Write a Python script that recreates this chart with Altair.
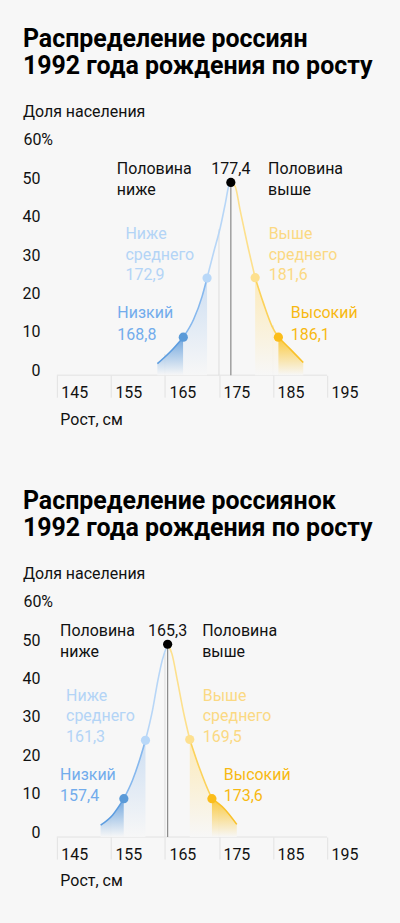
import altair as alt
import pandas as pd

FONT = "Roboto"
BG = "#f7f7f7"
INK = "#111111"

# ---------------- data ----------------
X_TICKS = [145, 155, 165, 175, 185, 195]
Y_TICKS = [0, 10, 20, 30, 40, 50, 60]

TITLE_M = ["Распределение россиян", "1992 года рождения по росту"]
TITLE_F = ["Распределение россиянок", "1992 года рождения по росту"]

# men: left (blue) side of the curve, height cm / share %
m_blue_h = [163.6, 166.0, 168.4, 170.3, 171.9, 172.8, 174.0, 175.3, 176.2, 176.8, 177.2]
m_blue_p = [3.0, 6.1, 9.9, 14.5, 20.6, 25.3, 31.9, 38.8, 44.9, 49.2, 50.2]
# men: right (yellow) side
m_yel_h = [177.2, 178.0, 178.9, 180.2, 181.7, 183.2, 184.8, 186.0, 188.2, 190.6]
m_yel_p = [50.2, 49.2, 43.1, 34.5, 25.4, 18.9, 12.8, 9.9, 6.8, 3.3]

# women
f_blue_h = [153.1, 155.3, 157.4, 159.0, 160.5, 161.4, 162.7, 163.7, 164.5, 165.5]
f_blue_p = [3.1, 5.7, 10.0, 14.8, 20.9, 25.2, 33.0, 40.8, 46.0, 50.2]
f_yel_h = [165.5, 166.3, 167.3, 168.5, 169.6, 171.3, 172.5, 173.7, 175.9, 178.3]
f_yel_p = [50.2, 47.7, 40.8, 32.1, 25.4, 18.3, 13.9, 10.0, 7.5, 3.3]

# indices of the marked points inside the side arrays
BLUE_LOW, BLUE_MID = 2, 5      # "Низкий", "Ниже среднего"
YEL_MID, YEL_HIGH = 4, 7       # "Выше среднего", "Высокий"

# faint grid rules under the curve (tick, height reached)
m_grid_h = [165, 175, 185]
m_grid_p = [5.5, 38.0, 13.0]
f_grid_h = [155, 165, 175]
f_grid_p = [5.3, 48.0, 7.8]

# value labels
M_MEDIAN, M_LOW, M_BELOW, M_ABOVE, M_HIGH = "177,4", "168,8", "172,9", "181,6", "186,1"
F_MEDIAN, F_LOW, F_BELOW, F_ABOVE, F_HIGH = "165,3", "157,4", "161,3", "169,5", "173,6"

# label anchor positions (h) per panel
m_lab_left_h, m_lab_right_h = 156.1, 184.1
m_lab_mid_left_h, m_lab_mid_right_h = 157.7, 184.2
m_lab_low_h, m_lab_high_h = 156.2, 188.3
f_lab_left_h, f_lab_right_h = 145.6, 171.9
f_lab_mid_left_h, f_lab_mid_right_h = 146.7, 172.0
f_lab_low_h, f_lab_high_h = 145.6, 175.9
ROW_TOP = [52.3, 47.0]
ROW_MID = [35.5, 30.1, 24.7]
ROW_LOW = [14.8, 9.3]

# colours
C_B1, C_B2, C_B3 = "#5d9de0", "#86b8ee", "#b7d6f7"
C_Y3, C_Y2, C_Y1 = "#fde08c", "#fcd25a", "#f9c12a"
DOT_LOW, DOT_MID_B = "#5a9ad8", "#b9d8f8"
DOT_MID_Y, DOT_HIGH = "#fde08f", "#fbbd1a"
TXT_LOW, TXT_MID_B = "#72acec", "#b3d4f6"
TXT_MID_Y, TXT_HIGH = "#fbd983", "#f7b912"
AREA_B1, AREA_B2 = "#5f9cdb", "#c9dcf2"
AREA_Y2, AREA_Y1 = "#fde9b3", "#fbc326"
AXIS_C = "#e2e2e2"


def grad(c):
    return alt.Gradient(
        gradient="linear", x1=1, y1=0, x2=1, y2=1,
        stops=[alt.GradientStop(offset=0, color=c),
               alt.GradientStop(offset=1, color=BG)],
    )


def panel(title, bh, bp, yh, yp, gh, gp, labs):
    segs = []

    def add(name, hs, ps):
        for h, p in zip(hs, ps):
            segs.append({"seg": name, "h": h, "p": p})

    add("b1", bh[:BLUE_LOW + 1], bp[:BLUE_LOW + 1])
    add("b2", bh[BLUE_LOW:BLUE_MID + 1], bp[BLUE_LOW:BLUE_MID + 1])
    add("b3", bh[BLUE_MID:], bp[BLUE_MID:])
    add("y3", yh[:YEL_MID + 1], yp[:YEL_MID + 1])
    add("y2", yh[YEL_MID:YEL_HIGH + 1], yp[YEL_MID:YEL_HIGH + 1])
    add("y1", yh[YEL_HIGH:], yp[YEL_HIGH:])
    curve = pd.DataFrame(segs)

    X = alt.X("h:Q", scale=alt.Scale(domain=[145, 205], nice=False, zero=False),
              axis=alt.Axis(values=X_TICKS, format="d", grid=False, domain=False,
                            tickColor=AXIS_C, tickSize=22,
                            labelAlign="left", labelBaseline="alphabetic", labelPadding=0,
                            labelOffset=4, labelFont=FONT, labelFontSize=16, labelColor=INK,
                            labelFlush=False, labelBound=False, labelOverlap=False,
                            title="Рост, см", titleFont=FONT, titleFontSize=16,
                            titleFontWeight="normal", titleColor=INK, titleAnchor="start",
                            titleAlign="left", titleBaseline="alphabetic", titleX=3, titleY=49))
    Y = alt.Y("p:Q", scale=alt.Scale(domain=[0, 60], nice=False, zero=True),
              axis=alt.Axis(values=Y_TICKS, grid=False, domain=False, ticks=False, tickSize=0,
                            labelExpr="datum.value == 60 ? '60%' : datum.label",
                            labelAlign={"condition": {"test": "datum.value == 60", "value": "left"}, "value": "right"},
                            labelPadding={"condition": {"test": "datum.value == 60", "value": 34}, "value": 17},
                            labelBaseline="alphabetic", labelFont=FONT, labelFontSize=16,
                            labelColor=INK, title=None))

    # baseline of the x axis, from first to last tick
    base = alt.Chart(pd.DataFrame({"h": [X_TICKS[0]], "h2": [X_TICKS[-1]], "p": [0]})).mark_rule(
        color=AXIS_C, strokeWidth=1).encode(x=X, x2="h2:Q", y=Y)

    grid = pd.DataFrame({"h": gh, "p": gp})
    rules = alt.Chart(grid).mark_rule(color="#dedede", strokeWidth=1).encode(
        x=X, y=Y, y2=alt.datum(0))

    areas = []
    for s, c in [("b1", AREA_B1), ("b2", AREA_B2), ("y2", AREA_Y2), ("y1", AREA_Y1)]:
        areas.append(
            alt.Chart(curve[curve["seg"] == s])
            .mark_area(interpolate="monotone", color=grad(c), opacity=0.9)
            .encode(x=X, y=Y))

    median = pd.DataFrame({"h": [bh[-1]], "p": [bp[-1]]})
    med_rule = alt.Chart(median).mark_rule(color="#8a8a8a", strokeWidth=1.2).encode(
        x=X, y=Y, y2=alt.datum(0))

    lines = alt.Chart(curve).mark_line(interpolate="monotone", strokeWidth=1.6).encode(
        x=X, y=Y, order="h:Q",
        color=alt.Color("seg:N", scale=alt.Scale(
            domain=["b1", "b2", "b3", "y3", "y2", "y1"],
            range=[C_B1, C_B2, C_B3, C_Y3, C_Y2, C_Y1]), legend=None))

    dots = pd.DataFrame({
        "h": [bh[BLUE_LOW], bh[BLUE_MID], yh[YEL_MID], yh[YEL_HIGH], bh[-1]],
        "p": [bp[BLUE_LOW], bp[BLUE_MID], yp[YEL_MID], yp[YEL_HIGH], bp[-1]],
        "c": [DOT_LOW, DOT_MID_B, DOT_MID_Y, DOT_HIGH, "#000000"],
    })
    pts = alt.Chart(dots).mark_circle(size=85, opacity=1).encode(
        x=X, y=Y, color=alt.Color("c:N", scale=None))

    lab_left = pd.DataFrame(labs["left"])
    lab_center = pd.DataFrame(labs["center"])
    t1 = alt.Chart(lab_left).mark_text(align="left", baseline="alphabetic", font=FONT,
                                       fontSize=16).encode(
        x=X, y=Y, text="t:N", color=alt.Color("c:N", scale=None))
    t2 = alt.Chart(lab_center).mark_text(align="center", baseline="alphabetic", font=FONT,
                                         fontSize=16).encode(
        x=X, y=Y, text="t:N", color=alt.Color("c:N", scale=None))

    return alt.layer(base, rules, *areas, med_rule, lines, pts, t1, t2).properties(
        width=325, height=231,
        title=alt.TitleParams(text=title, subtitle="Доля населения", anchor="start",
                              frame="group", dx=-34, font=FONT, fontSize=25,
                              fontWeight=700, color="#000000", lineHeight=27,
                              subtitleFont=FONT, subtitleFontSize=16,
                              subtitleColor=INK, subtitlePadding=25, offset=12),
    ).resolve_scale(color="independent")


def labels(lh, rh, mlh, mrh, loh, hih, median_h, median_t, below_t, above_t, low_t, high_t):
    left = []
    for t, p in zip(["Половина", "ниже"], ROW_TOP):
        left.append({"h": lh, "p": p, "t": t, "c": INK})
    for t, p in zip(["Половина", "выше"], ROW_TOP):
        left.append({"h": rh, "p": p, "t": t, "c": INK})
    for t, p in zip(["Ниже", "среднего", below_t], ROW_MID):
        left.append({"h": mlh, "p": p, "t": t, "c": TXT_MID_B})
    for t, p in zip(["Выше", "среднего", above_t], ROW_MID):
        left.append({"h": mrh, "p": p, "t": t, "c": TXT_MID_Y})
    for t, p in zip(["Низкий", low_t], ROW_LOW):
        left.append({"h": loh, "p": p, "t": t, "c": TXT_LOW})
    for t, p in zip(["Высокий", high_t], ROW_LOW):
        left.append({"h": hih, "p": p, "t": t, "c": TXT_HIGH})
    center = [{"h": median_h, "p": ROW_TOP[0], "t": median_t, "c": INK}]
    return {"left": left, "center": center}


lab_m = labels(m_lab_left_h, m_lab_right_h, m_lab_mid_left_h, m_lab_mid_right_h,
               m_lab_low_h, m_lab_high_h, m_blue_h[-1], M_MEDIAN, M_BELOW, M_ABOVE, M_LOW, M_HIGH)
lab_f = labels(f_lab_left_h, f_lab_right_h, f_lab_mid_left_h, f_lab_mid_right_h,
               f_lab_low_h, f_lab_high_h, f_blue_h[-1], F_MEDIAN, F_BELOW, F_ABOVE, F_LOW, F_HIGH)

top = panel(TITLE_M, m_blue_h, m_blue_p, m_yel_h, m_yel_p, m_grid_h, m_grid_p, lab_m)
bottom = panel(TITLE_F, f_blue_h, f_blue_p, f_yel_h, f_yel_p, f_grid_h, f_grid_p, lab_f)

chart = alt.vconcat(top, bottom, spacing=62).configure(
    background=BG,
    padding={"left": 22, "top": 26, "right": 19, "bottom": 35},
).configure_view(stroke=None)

chart.save("out.html", embed_options={"renderer": "svg", "actions": False})
